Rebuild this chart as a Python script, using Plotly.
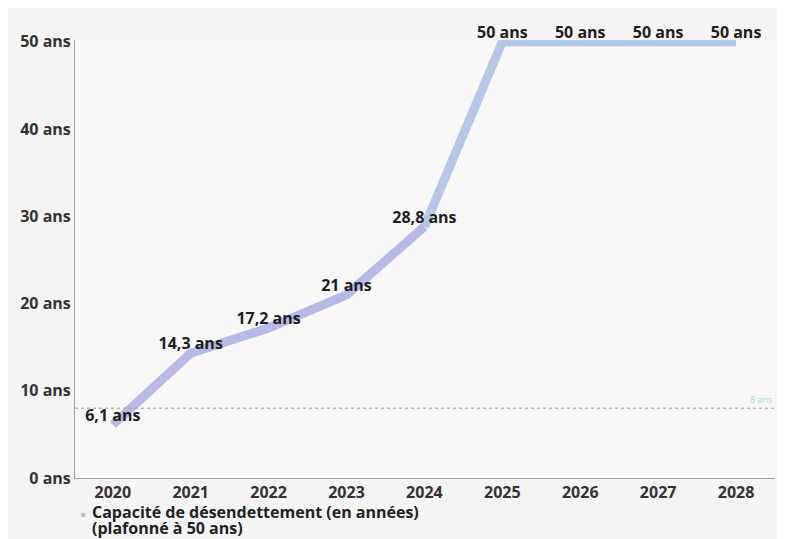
import plotly.graph_objects as go

years = ["2020", "2021", "2022", "2023", "2024", "2025", "2026", "2027", "2028"]
capacite = [6.1, 14.3, 17.2, 21, 28.8, 50, 50, 50, 50]
labels = ["6,1 ans", "14,3 ans", "17,2 ans", "21 ans", "28,8 ans", "50 ans", "50 ans", "50 ans", "50 ans"]
seuil = 8
seuil_label = "8 ans"
y_ticks = [0, 10, 20, 30, 40, 50]
y_ticktext = [f"{v} ans" for v in y_ticks]
series_name_l1 = "Capacité de désendettement (en années)"
series_name_l2 = "(plafonné à 50 ans)"

font_fam = "Open Sans, Noto Sans, sans-serif"
split = 4  # colour change of the line (lavender -> light blue)

fig = go.Figure()

fig.add_trace(go.Scatter(
    x=years[:split + 1], y=capacite[:split + 1], mode="lines", showlegend=False,
    line=dict(color="rgba(172,174,228,0.85)", width=9), hoverinfo="skip",
))
fig.add_trace(go.Scatter(
    x=years[split:], y=capacite[split:], mode="lines", showlegend=False,
    line=dict(color="rgba(168,192,230,0.85)", width=9), hoverinfo="skip",
))
fig.add_trace(go.Scatter(
    x=years, y=capacite, mode="text", name=series_name_l1 + " " + series_name_l2,
    showlegend=False,
    text=labels, textposition="top center",
    textfont=dict(family=font_fam, size=16, color="#1e1e1e", weight="bold"),
    cliponaxis=False,
))

fig.add_shape(type="line", xref="paper", x0=0, x1=1, yref="y", y0=seuil, y1=seuil,
              line=dict(color="#9a9a9a", width=1, dash="dot"))
fig.add_annotation(xref="paper", x=0.998, yref="y", y=seuil, text=seuil_label,
                   showarrow=False, xanchor="right", yanchor="bottom",
                   font=dict(family=font_fam, size=9, color="rgba(120,190,160,0.6)"))

# legend (square symbol + two tightly spaced lines of text)
leg_font = dict(family=font_fam, size=16, color="#222", weight="bold")
fig.add_annotation(xref="paper", yref="paper", x=0.019, y=-0.080, text="■",
                   showarrow=False, xanchor="right", yanchor="middle",
                   font=dict(family=font_fam, size=8, color="#bdbdbd"))
fig.add_annotation(xref="paper", yref="paper", x=0.021, y=-0.078, text=series_name_l1,
                   showarrow=False, xanchor="left", yanchor="middle", font=leg_font)
fig.add_annotation(xref="paper", yref="paper", x=0.021, y=-0.114, text=series_name_l2,
                   showarrow=False, xanchor="left", yanchor="middle", font=leg_font)

fig.update_layout(
    width=785, height=539,
    margin=dict(l=64, r=18, t=32, b=69),
    paper_bgcolor="#f4f4f4",
    plot_bgcolor="#f8f8f8",
    showlegend=False,
    xaxis=dict(
        type="category", range=[-0.485, 8.5],
        showline=True, linecolor="#a0a0a0", linewidth=1,
        showgrid=False, ticks="",
        tickfont=dict(family=font_fam, size=16, color="#333", weight="bold"),
    ),
    yaxis=dict(
        range=[0, 50.2], tickvals=y_ticks, ticktext=y_ticktext,
        showline=True, linecolor="#a0a0a0", linewidth=1,
        showgrid=False, zeroline=False, ticks="",
        tickfont=dict(family=font_fam, size=16, color="#333", weight="bold"),
    ),
)

fig.write_html("out.html")
